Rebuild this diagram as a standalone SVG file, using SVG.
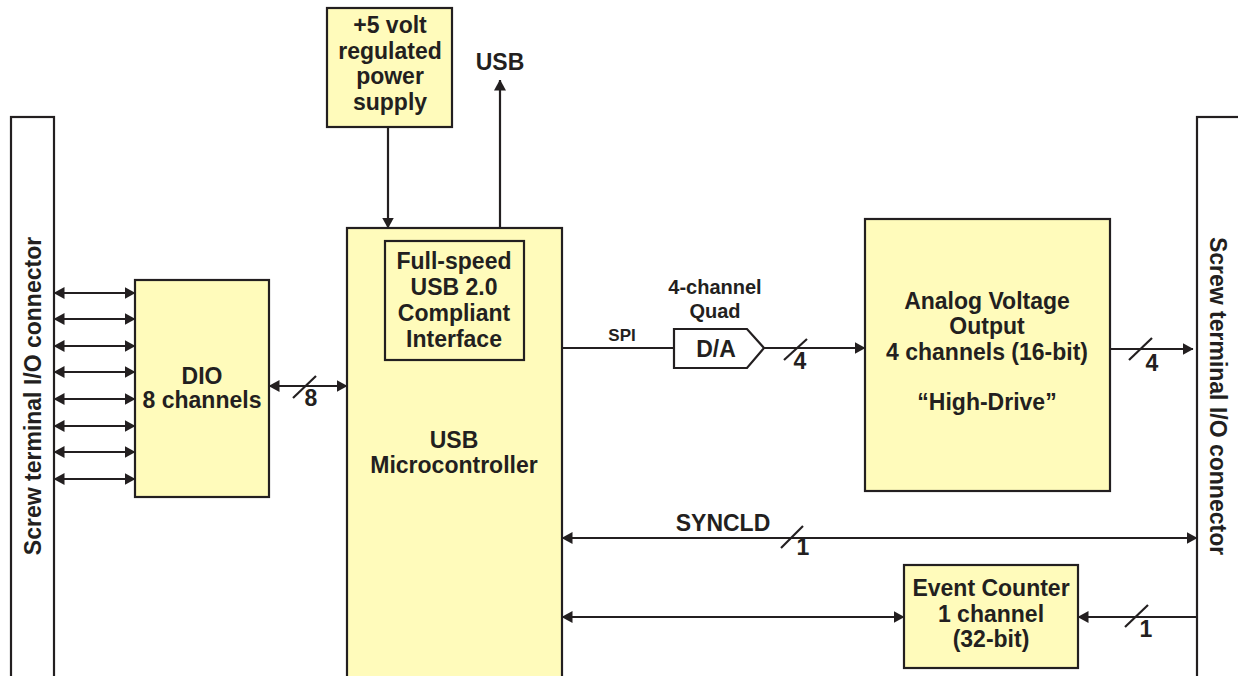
<svg xmlns="http://www.w3.org/2000/svg" width="1238" height="676" viewBox="0 0 1238 676">
<defs>
<marker id="ah" viewBox="0 0 11 12" refX="10.5" refY="6" markerWidth="11" markerHeight="12" markerUnits="userSpaceOnUse" orient="auto-start-reverse">
<path d="M0,0 L11,6 L0,12 z" fill="#231f20"/>
</marker>
<style>
.box{fill:#fffbbb;stroke:#231f20;stroke-width:2.2}
.conn{fill:#ffffff;stroke:#231f20;stroke-width:2.2}
.ln{fill:none;stroke:#231f20;stroke-width:2.2}
.t{font-family:"Liberation Sans",Arial,sans-serif;font-weight:bold;font-size:23px;fill:#231f20;text-anchor:middle}
.s{font-size:20px}
.xs{font-size:17px}
</style>
</defs>
<rect width="1238" height="676" fill="#ffffff"/>

<g id="left-connector">
<rect class="conn" x="11" y="117" width="43" height="570"/>
<text class="t" transform="translate(41,396) rotate(-90)">Screw terminal I/O connector</text>
</g>
<g id="right-connector">
<rect class="conn" x="1197" y="117" width="50" height="570"/>
<text class="t" transform="translate(1210,396) rotate(90)">Screw terminal I/O connector</text>
</g>

<g id="power">
<rect class="box" x="327" y="8" width="125" height="119"/>
<text class="t" x="390" y="33">+5 volt</text>
<text class="t" x="390" y="59">regulated</text>
<text class="t" x="390" y="84">power</text>
<text class="t" x="390" y="110">supply</text>
</g>

<g id="usb-label">
<text class="t" x="500" y="70">USB</text>
</g>

<g id="micro">
<rect class="box" x="347" y="228" width="215" height="460"/>
<text class="t" x="454" y="448">USB</text>
<text class="t" x="454" y="473">Microcontroller</text>
</g>
<g id="usb-interface">
<rect class="box" x="385" y="241" width="139" height="119"/>
<text class="t" x="454" y="269">Full-speed</text>
<text class="t" x="454" y="295">USB 2.0</text>
<text class="t" x="454" y="321">Compliant</text>
<text class="t" x="454" y="347">Interface</text>
</g>

<g id="dio">
<rect class="box" x="135" y="280" width="134" height="217"/>
<text class="t" x="202" y="384">DIO</text>
<text class="t" x="202" y="408">8 channels</text>
</g>

<g id="dac">
<path class="conn" d="M674,329 L747,329 L764,348 L747,368 L674,368 Z"/>
<text class="t" x="716" y="357">D/A</text>
<text class="t s" x="715" y="294">4-channel</text>
<text class="t s" x="715" y="318">Quad</text>
</g>

<g id="analog">
<rect class="box" x="865" y="219" width="245" height="272"/>
<text class="t" x="987" y="309">Analog Voltage</text>
<text class="t" x="987" y="334">Output</text>
<text class="t" x="987" y="360">4 channels (16-bit)</text>
<text class="t" x="987" y="410">“High-Drive”</text>
</g>

<g id="counter">
<rect class="box" x="904" y="565" width="174" height="103"/>
<text class="t" x="991" y="596">Event Counter</text>
<text class="t" x="991" y="622">1 channel</text>
<text class="t" x="991" y="647">(32-bit)</text>
</g>

<g id="connectors">
<line class="ln" x1="54" y1="293" x2="135" y2="293" marker-start="url(#ah)" marker-end="url(#ah)"/>
<line class="ln" x1="54" y1="319" x2="135" y2="319" marker-start="url(#ah)" marker-end="url(#ah)"/>
<line class="ln" x1="54" y1="346" x2="135" y2="346" marker-start="url(#ah)" marker-end="url(#ah)"/>
<line class="ln" x1="54" y1="372" x2="135" y2="372" marker-start="url(#ah)" marker-end="url(#ah)"/>
<line class="ln" x1="54" y1="399" x2="135" y2="399" marker-start="url(#ah)" marker-end="url(#ah)"/>
<line class="ln" x1="54" y1="426" x2="135" y2="426" marker-start="url(#ah)" marker-end="url(#ah)"/>
<line class="ln" x1="54" y1="452" x2="135" y2="452" marker-start="url(#ah)" marker-end="url(#ah)"/>
<line class="ln" x1="54" y1="479" x2="135" y2="479" marker-start="url(#ah)" marker-end="url(#ah)"/>

<line class="ln" x1="269" y1="386" x2="347" y2="386" marker-start="url(#ah)" marker-end="url(#ah)"/>
<line class="ln" x1="293" y1="398" x2="316" y2="376"/>
<text class="t" x="311" y="406">8</text>

<line class="ln" x1="388" y1="127" x2="388" y2="228" marker-end="url(#ah)"/>
<line class="ln" x1="500" y1="228" x2="500" y2="80" marker-end="url(#ah)"/>

<line class="ln" x1="562" y1="348" x2="674" y2="348"/>
<text class="t xs" x="622" y="341">SPI</text>
<line class="ln" x1="764" y1="348" x2="865" y2="348" marker-end="url(#ah)"/>
<line class="ln" x1="784" y1="360" x2="807" y2="339"/>
<text class="t" x="800" y="369">4</text>

<line class="ln" x1="1110" y1="349" x2="1193" y2="349" marker-end="url(#ah)"/>
<line class="ln" x1="1129" y1="360" x2="1152" y2="338"/>
<text class="t" x="1152" y="371">4</text>

<line class="ln" x1="562" y1="538" x2="1197" y2="538" marker-start="url(#ah)" marker-end="url(#ah)"/>
<text class="t" x="723" y="531">SYNCLD</text>
<line class="ln" x1="781" y1="548" x2="803" y2="526"/>
<text class="t" x="803" y="555">1</text>

<line class="ln" x1="562" y1="617" x2="904" y2="617" marker-start="url(#ah)" marker-end="url(#ah)"/>
<line class="ln" x1="1197" y1="617" x2="1078" y2="617" marker-end="url(#ah)"/>
<line class="ln" x1="1125" y1="627" x2="1148" y2="605"/>
<text class="t" x="1146" y="637">1</text>
</g>
</svg>
